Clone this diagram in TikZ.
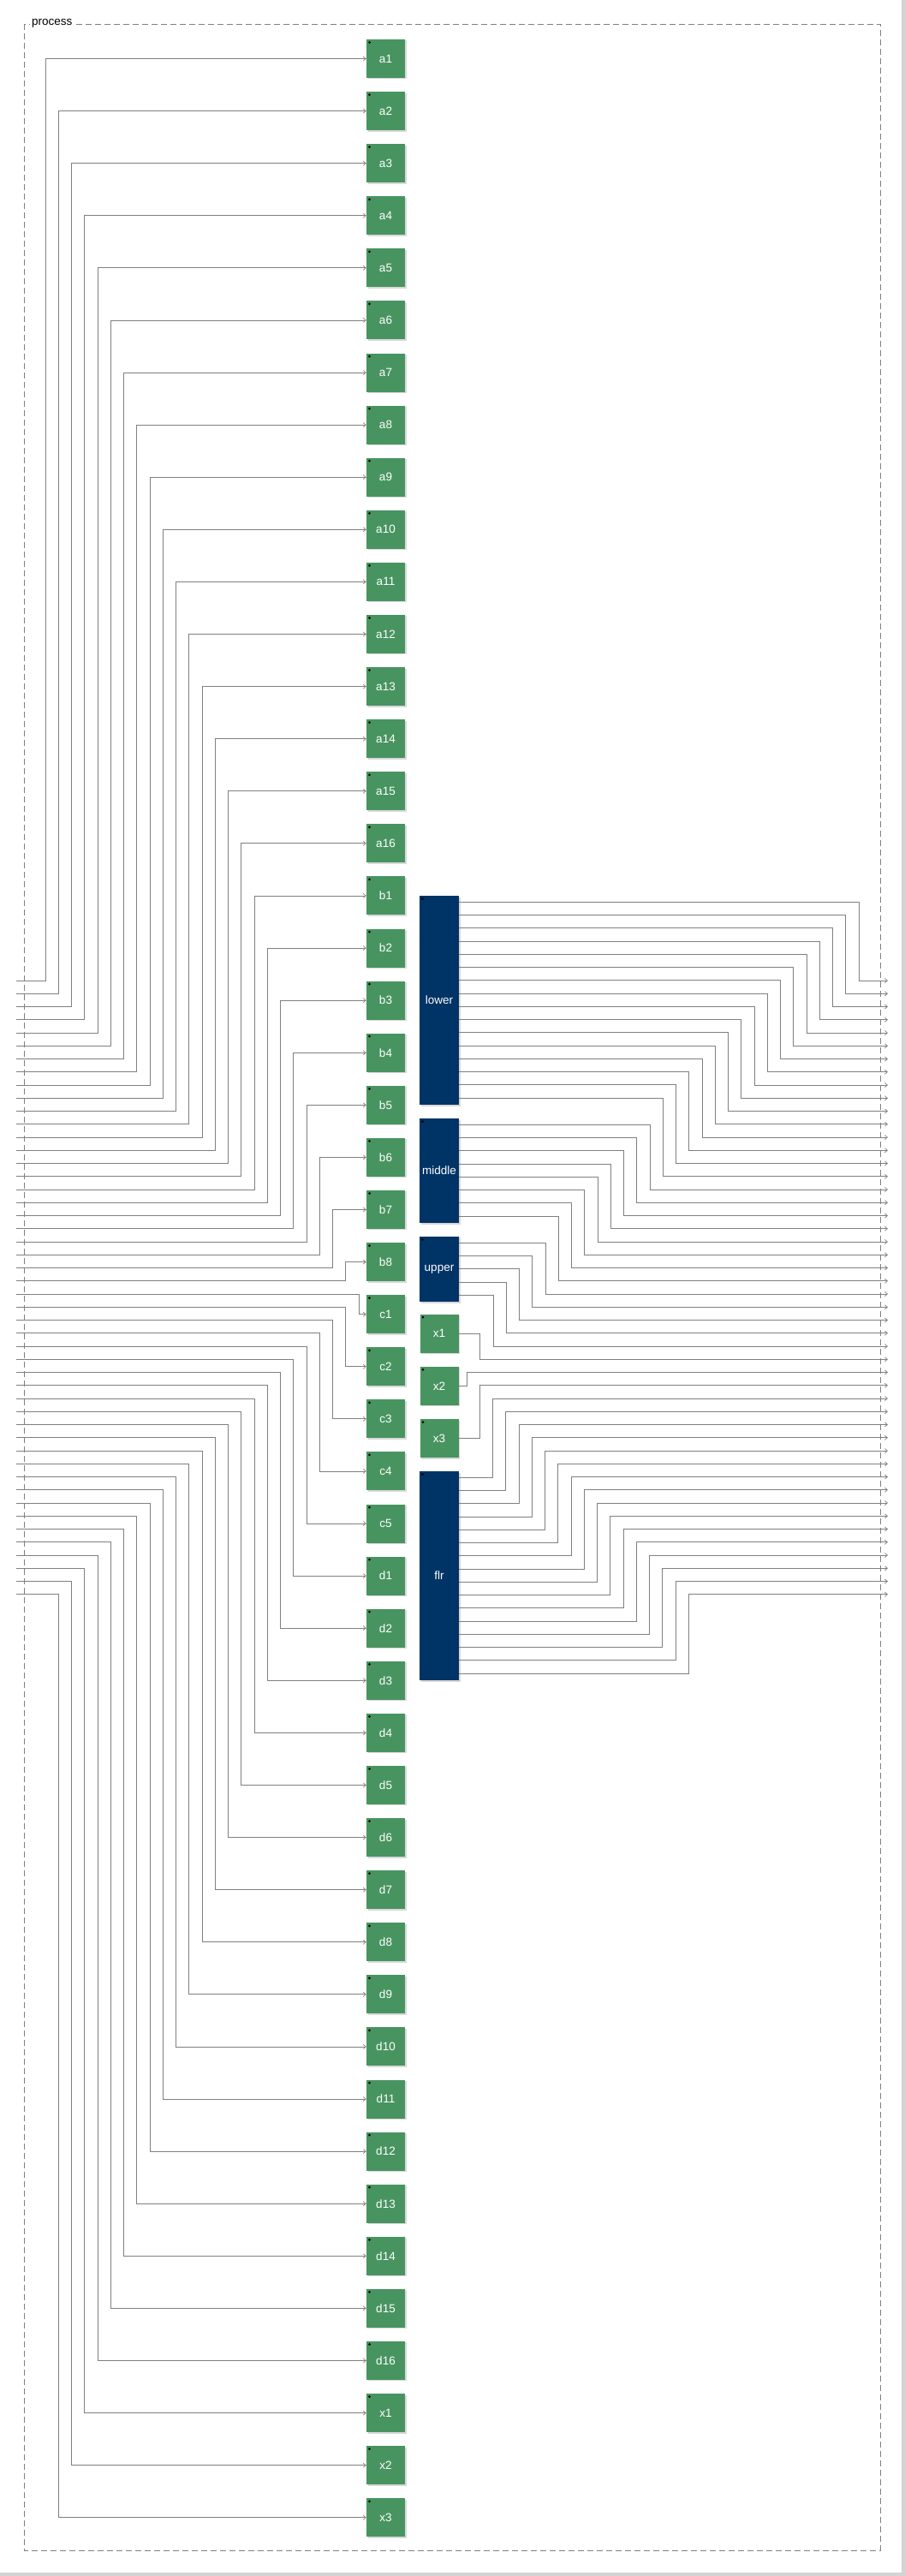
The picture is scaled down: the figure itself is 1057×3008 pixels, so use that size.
\documentclass[tikz,border=0pt]{standalone}
\usepackage{fontspec}
\setmainfont{Liberation Sans}
\usetikzlibrary{arrows.meta,calc,shadows}
\definecolor{vertbloc}{RGB}{72,148,97}
\definecolor{bleubloc}{RGB}{0,51,102}
\definecolor{gristrait}{RGB}{128,128,128}
\definecolor{grisbord}{RGB}{211,211,211}
\begin{document}
\begin{tikzpicture}[x=1pt,y=-1pt]
	% Styles (MODIFIABLES)
	\tikzstyle{fil}=[draw=gristrait,line width=0.9pt,-{Straight Barb[length=3pt,width=5pt,line width=0.7pt]}]
	\tikzstyle{cadre}=[draw=gristrait,line width=0.9pt,dash pattern=on 7pt off 4pt]
	\tikzstyle{bloc}=[fill=vertbloc,text=white,inner sep=0pt,minimum width=45pt,minimum height=45pt,
		font=\fontsize{13.5}{15}\selectfont,
		drop shadow={shadow xshift=1.5pt,shadow yshift=-1.5pt,opacity=0.3},
		path picture={\fill[black] ($(path picture bounding box.north west)+(3.5pt,-3.5pt)$) circle (1.5pt);}]
	\tikzstyle{sousbloc}=[bloc,fill=bleubloc,minimum width=46pt]
	\tikzstyle{titre}=[fill=white,inner sep=2pt,anchor=west,font=\fontsize{13.5}{15}\selectfont]
	% Dimensions (MODIFIABLES)
	\def\PasBloc{61.09}
	\def\PasPort{15.25}
	\def\XGauche{450.5}
	\def\XDroite{513}
	\def\YPremier{68.5}
	\def\YPort{1145}
	% Fond et cadre
	\fill[white] (0,0) rectangle (1057,3008);
	\useasboundingbox (0,0) rectangle (1057,3008);
	\fill[grisbord] (1053,0) rectangle (1057,3008);
	\fill[grisbord] (0,3004) rectangle (1057,3008);
	\draw[cadre] (28,28) rectangle (1028,2978);
	\node[titre] (process) at (35,27) {process};
	% Ports (entrees a gauche, sorties a droite)
	\foreach \k in {1,...,48}{
		\coordinate (pe\k) at (19,{\YPort+(\k-1)*\PasPort});
		\coordinate (ps\k) at (1037,{\YPort+(\k-1)*\PasPort});
	}
	% Noeuds de gauche
	\foreach \lettre/\nb/\debut in {a/16/0,b/8/16,c/5/24,d/16/29,x/3/45}{
		\foreach \i in {1,...,\nb}{
			\pgfmathtruncatemacro{\k}{\debut+\i}
			\node[bloc] (\lettre\i) at (\XGauche,{\YPremier+(\k-1)*\PasBloc}) {\lettre\i};
		}
	}
	% Noeuds de droite
	\node[sousbloc,minimum height=244pt] (lower) at (\XDroite,1168) {lower};
	\node[sousbloc,minimum height=122pt] (middle) at (\XDroite,1367) {middle};
	\node[sousbloc,minimum height=76.25pt] (upper) at (\XDroite,1482.1) {upper};
	\node[bloc] (rx1) at (\XDroite,1557) {x1};
	\node[bloc] (rx2) at (\XDroite,1618.3) {x2};
	\node[bloc] (rx3) at (\XDroite,1679.5) {x3};
	\node[sousbloc,minimum height=244pt] (flr) at (\XDroite,1840) {flr};
	% Sorties des blocs
	\foreach \nom/\nb/\debut in {lower/16/0,middle/8/16,upper/5/24,flr/16/32}{
		\foreach \i in {1,...,\nb}{
			\pgfmathtruncatemacro{\k}{\debut+\i}
			\coordinate (so\k) at ($(\nom.north east)+(0,{7.625+(\i-1)*\PasPort})$);
		}
	}
	\coordinate (so30) at (rx1.east);
	\coordinate (so31) at (rx2.east);
	\coordinate (so32) at (rx3.east);
	% Arcs d'entree
	\foreach \lettre/\nb/\debut in {a/16/0,b/8/16,c/5/24,d/16/29,x/3/45}{
		\foreach \i in {1,...,\nb}{
			\pgfmathtruncatemacro{\k}{\debut+\i}
			\pgfmathsetmacro{\yp}{\YPort+(\k-1)*\PasPort}
			\pgfmathsetmacro{\xv}{\k<25 ? 53+(\k-1)*\PasPort : 419-(\k-25)*\PasPort}
			\draw[fil] (pe\k) -- (\xv,\yp) |- (\lettre\i.west);
		}
	}
	% Arcs de sortie
	\foreach \k in {1,...,48}{
		\pgfmathsetmacro{\yp}{\YPort+(\k-1)*\PasPort}
		\pgfmathsetmacro{\xv}{\k<31 ? 1003-(\k-1)*\PasPort : 545+(\k-31)*\PasPort}
		\draw[fil] (so\k) -| (\xv,\yp) -- (ps\k);
	}
\end{tikzpicture}
\end{document}
